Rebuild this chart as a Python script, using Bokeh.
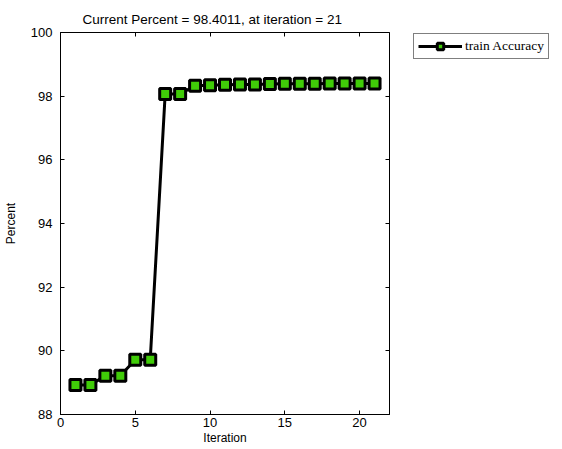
from bokeh.plotting import figure
from bokeh.layouts import row
from bokeh.models import Range1d, Legend, LegendItem, LinearAxis, FixedTicker, Title
from bokeh.embed import file_html
from bokeh.resources import INLINE

iterations = list(range(1, 22))
accuracy = [88.93, 88.93, 89.22, 89.22, 89.72, 89.72, 98.07, 98.07, 98.33, 98.34,
            98.36, 98.37, 98.37, 98.38, 98.39, 98.39, 98.39, 98.40, 98.40, 98.40, 98.4011]
x_ticks = [0, 5, 10, 15, 20]
y_ticks = [88, 90, 92, 94, 96, 98, 100]
title_text = "Current Percent = 98.4011, at iteration = 21"
series_name = "train Accuracy"

FONT = "Liberation Sans Narrow, Liberation Sans, Arial"
GREEN = "#40cc08"

p = figure(width=392, height=447, output_backend="svg", toolbar_location=None,
           x_range=Range1d(0, 22), y_range=Range1d(88, 100),
           min_border_left=60, min_border_right=3, min_border_top=32, min_border_bottom=20)
p.title = Title(text=title_text, align="left", text_font=FONT, text_font_size="13.5px",
                text_font_style="normal", text_color="black", standoff=12, offset=22)
p.title_location = "above"

p.xgrid.visible = False
p.ygrid.visible = False
p.outline_line_color = "black"
p.outline_line_width = 1
p.background_fill_color = "white"
p.border_fill_color = "white"

for ax in [p.xaxis[0], p.yaxis[0]]:
    ax.major_tick_in = 4
    ax.major_tick_out = 0
    ax.minor_tick_line_color = None
    ax.axis_line_color = "black"
    ax.major_tick_line_color = "black"
    ax.major_label_text_font = FONT
    ax.major_label_text_font_size = "13px"
    ax.major_label_text_color = "black"
    ax.axis_label_text_font = FONT
    ax.axis_label_text_font_size = "12px"
    ax.axis_label_text_font_style = "normal"
    ax.axis_label_text_color = "black"

p.xaxis[0].ticker = FixedTicker(ticks=x_ticks)
p.yaxis[0].ticker = FixedTicker(ticks=y_ticks)
p.xaxis[0].axis_label = "Iteration"
p.yaxis[0].axis_label = "Percent"
p.xaxis[0].major_label_standoff = 3
p.xaxis[0].axis_label_standoff = 1
p.yaxis[0].major_label_standoff = 8
p.yaxis[0].axis_label_standoff = 10

top_ax = LinearAxis(ticker=FixedTicker(ticks=x_ticks), major_tick_in=4, major_tick_out=0,
                    minor_tick_line_color=None, major_label_text_font_size="0px",
                    axis_line_color=None, major_label_standoff=0)
p.add_layout(top_ax, "above")
right_ax = LinearAxis(ticker=FixedTicker(ticks=y_ticks), major_tick_in=4, major_tick_out=0,
                      minor_tick_line_color=None, major_label_text_font_size="0px",
                      axis_line_color=None, major_label_standoff=0)
p.add_layout(right_ax, "right")

p.line(iterations, accuracy, line_color="black", line_width=3)
p.scatter(iterations, accuracy, marker="square", size=11, fill_color=GREEN,
          line_color="black", line_width=3)

# legend panel (separate figure to the right of the axes box)
q = figure(width=162, height=447, output_backend="svg", toolbar_location=None,
           x_range=Range1d(0, 1), y_range=Range1d(0, 1),
           min_border_left=0, min_border_right=0, min_border_top=0, min_border_bottom=0)
q.axis.visible = False
q.xgrid.visible = False
q.ygrid.visible = False
q.outline_line_color = None
q.background_fill_color = "white"
q.border_fill_color = "white"
# proxy renderers for the legend only (placed outside the visible range)
lg_line = q.line([5, 6], [5, 6], line_color="black", line_width=3)
lg_sq = q.scatter([5], [5], marker="square", size=11, fill_color=GREEN,
                  line_color="black", line_width=3)

legend = Legend(items=[LegendItem(label=series_name, renderers=[lg_line, lg_sq])],
                location=(21, 355), orientation="vertical",
                label_text_font="Liberation Serif, Times New Roman, serif",
                label_text_font_size="13.5px", label_text_color="black",
                border_line_color="black", border_line_width=1,
                background_fill_color="white", background_fill_alpha=1,
                glyph_width=44, glyph_height=16, label_standoff=3,
                padding=4, spacing=0, margin=0, label_height=16)
q.add_layout(legend, "center")

layout = row(p, q, spacing=0)
open("out.html", "w").write(file_html(layout, INLINE))
